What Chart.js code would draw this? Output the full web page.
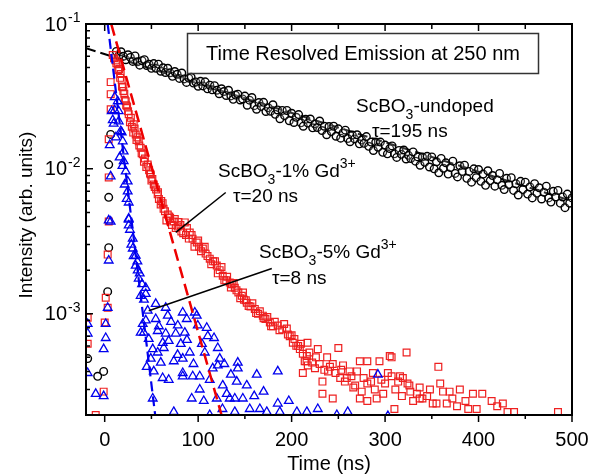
<!DOCTYPE html>
<html>
<head>
<meta charset="utf-8">
<script src="https://cdn.jsdelivr.net/npm/chart.js@4.4.0/dist/chart.umd.min.js"></script>
<style>
  html, body { margin: 0; padding: 0; background: #fff; }
  canvas { display: block; }
</style>
</head>
<body>
<canvas id="grafico" width="600" height="476"></canvas>
<script>
// dados: [tempo (ns), intensidade]
const undoped = [
  [-18.2,0.00049],[-7.5,0.00037],[-1.1,0.0004],[3.2,0.00142],[4.3,0.00286],[4.3,0.00636],[4.3,0.0107],[6.4,0.0173],
  [12.5,0.0647],[15,0.0602],[17.5,0.0643],[20,0.0599],[22.5,0.0567],[25,0.0613],[27.5,0.0588],[30,0.0552],
  [32.5,0.0602],[35,0.0549],[37.5,0.0520],[40,0.0558],[42.5,0.0567],[45,0.0517],[47.5,0.0527],[50,0.0494],
  [52.5,0.0533],[55,0.0495],[57.5,0.0528],[60,0.0472],[62.5,0.0499],[65,0.0463],[67.5,0.0495],[70,0.0460],
  [72.5,0.0435],[75,0.0470],[77.5,0.0450],[80,0.0421],[82.5,0.0459],[85,0.0418],[87.5,0.0395],[90,0.0423],
  [92.5,0.0429],[95,0.0391],[97.5,0.0398],[100,0.0372],[102.5,0.0402],[105,0.0374],[107.5,0.0399],[110,0.0357],
  [112.5,0.0378],[115,0.0351],[117.5,0.0375],[120,0.0349],[122.5,0.0330],[125,0.0357],[127.5,0.0342],[130,0.0321],
  [132.5,0.0349],[135,0.0319],[137.5,0.0302],[140,0.0323],[142.5,0.0328],[145,0.0299],[147.5,0.0304],
  [150,0.0318],[152.5,0.0275],[155,0.0298],[157.5,0.0311],[160,0.0273],[162.5,0.0258],[165,0.0287],[167.5,0.0270],
  [170,0.0288],[172.5,0.0249],[175,0.0264],[177.5,0.0250],[180,0.0277],[182.5,0.0238],[185,0.0255],[187.5,0.0222],
  [190,0.0253],[192.5,0.0233],[195,0.0253],[197.5,0.0215],[200,0.0242],[202.5,0.0209],[205,0.0227],[207.5,0.0237],
  [210,0.0208],[212.5,0.0197],[215,0.0220],[217.5,0.0207],[220,0.0221],[222.5,0.0192],[225,0.0204],[227.5,0.0193],
  [230,0.0214],[232.5,0.0184],[235,0.0197],[237.5,0.0172],[240,0.0196],[242.5,0.0181],[245,0.0197],[247.5,0.0168],
  [250,0.0189],[252.5,0.0163],[255,0.0177],[257.5,0.0185],[260,0.0162],[262.5,0.0154],[265,0.0171],[267.5,0.0161],
  [270,0.0172],[272.5,0.0149],[275,0.0158],[277.5,0.0150],[280,0.0167],[282.5,0.0143],[285,0.0153],[287.5,0.0134],
  [290,0.0153],[292.5,0.0141],[295,0.0153],[297.5,0.0130],[300,0.0146],[302.5,0.0127],[305,0.0138],[307.5,0.0144],
  [310,0.0127],[312.5,0.0120],[315,0.0134],[317.5,0.0126],[320,0.0135],[322.5,0.0117],[325,0.0124],[327.5,0.0118],
  [330,0.0131],[332.5,0.0113],[335,0.0121],[337.5,0.0106],[340,0.0121],[342.5,0.0111],[345,0.0122],[347.5,0.0103],
  [350,0.0121],[352.5,0.0100],[355,0.0112],[357.5,0.0094],[360,0.0118],[362.5,0.0101],[365,0.0110],[367.5,0.0092],
  [370,0.0102],[372.5,0.0113],[375,0.0093],[377.5,0.0088],[380,0.0105],[382.5,0.0096],[385,0.0106],[387.5,0.0086],
  [390,0.0096],[392.5,0.0081],[395,0.0100],[397.5,0.0087],[400,0.0099],[402.5,0.0082],[405,0.0092],[407.5,0.0077],
  [410,0.0097],[412.5,0.0083],[415,0.0090],[417.5,0.0076],[420,0.0084],[422.5,0.0093],[425,0.0077],[427.5,0.0072],
  [430,0.0086],[432.5,0.0078],[435,0.0087],[437.5,0.0071],[440,0.0079],[442.5,0.0066],[445,0.0082],[447.5,0.0072],
  [450,0.0081],[452.5,0.0067],[455,0.0075],[457.5,0.0063],[460,0.0079],[462.5,0.0068],[465,0.0074],[467.5,0.0062],
  [470,0.0069],[472.5,0.0076],[475,0.0063],[477.5,0.0059],[480,0.0070],[482.5,0.0064],[485,0.0071],[487.5,0.0058],
  [490,0.0064],[492.5,0.0054],[495,0.0067],[497.5,0.0058],[500,0.0063]
];

const gd1 = [
  [6.4,0.0397],[6.4,0.0328],[6.4,0.0258],[4.3,0.016],[4.3,0.00873],[4.3,0.00433],[3.2,0.00256],[1.1,0.00129],
  [3.2,0.0011],[0,0.00087],[-18.2,0.00094],[-18.2,0.00062],[-1.1,0.00029],[-9.6,0.0002],
  [8.6,0.061],[11.8,0.056],[13.9,0.0528],[15.5,0.049],[17.1,0.0451],[18.2,0.041],[19.3,0.0366],[21,0.033],
  [22.5,0.0293],[24,0.027],[25.7,0.0238],[28,0.0225],[31,0.0203],[32,0.019],[33.2,0.0173],[35,0.0165],
  [36.4,0.0155],[38.5,0.014],[40.7,0.0126],[43,0.0118],[46,0.0107],[47.5,0.0098],[49.3,0.00916],[51,0.0085],
  [52.5,0.00781],[55,0.0072],[56.7,0.00667],[58,0.0062],[59.9,0.00568],[63,0.0053],[67.5,0.00484],[70,0.0046],
  [73.9,0.00433],[66,0.0044],[76,0.0039],[79,0.0043],[82,0.0037],[85.7,0.00427],[88,0.0039],[91,0.00364],
  [94,0.0033],[98.5,0.0031],[101,0.0029],[105,0.00282],[108,0.0026],[112.4,0.0024],[116,0.0023],[119.9,0.00215],
  [123,0.002],[126.3,0.00183],[130,0.0017],[133.8,0.00164],[136,0.0016],[139.2,0.00151],[143,0.0014],
  [146.7,0.00133],[149,0.00125],[152,0.00119],[156,0.00112],[160.6,0.00108],[164,0.001],[169.2,0.00097],
  [172,0.00092],[176.7,0.00087],[180,0.00082],[185.2,0.00083],[190,0.00078],[194.9,0.00079],[198,0.0007],
  [201.3,0.00063],[205,0.0006],[208.8,0.00057],[212,0.00053],[216.3,0.00051],[217.3,0.00044],
  [10,0.058],[12.5,0.0535],[14.5,0.048],[16.5,0.0425],[18.5,0.037],[20,0.0345],[21.5,0.030],[23,0.0275],
  [25,0.025],[27,0.021],[29,0.0195],[30.5,0.0178],[34,0.0158],[37,0.0145],[39.5,0.0128],[42,0.0112],
  [44.5,0.0103],[48.5,0.0093],[50,0.0083],[53.5,0.0075],[57,0.0069],[60.5,0.006],[62,0.0058],[64.5,0.0051],
  [69,0.0047],[72,0.0041],[75,0.0045],[78,0.004],[81,0.0041],[84,0.0036],[87,0.0035],[90,0.0033],[93,0.0035],
  [96,0.0029],[100,0.0032],[103,0.0027],[107,0.0029],[110,0.0025],[114,0.0022],[118,0.0023],[121,0.0019],
  [125,0.0021],[128,0.0017],[131,0.0018],[135,0.00152],[138,0.00163],[141,0.00145],[145,0.00128],[148,0.0014],
  [151,0.00124],[154,0.00113],[158,0.00118],[162,0.00101],[166,0.00104],[170,0.00093],[174,0.00095],
  [178,0.00082],[182,0.00088],[187,0.00077],[192,0.00085],[196,0.00072],[200,0.00071],[203,0.00067],
  [207,0.0006],[210,0.00062],[214,0.00047],[219,0.00054],[222,0.00046],[226,0.0005],[230,0.00045],
  [235,0.00041],[241,0.00043],[247,0.00039],[253,0.00041],[257,0.00034],[264,0.00037],[268,0.00032],
  [270,0.0004],[277,0.00036],[285,0.00034],[287,0.00039],[296,0.00035],[298,0.00028],[311,0.0003],
  [318,0.00027],[326,0.00032],[330,0.00025],[337,0.00031],[345,0.00027],[362,0.00029],[372,0.00026],
  [386,0.00025],[394,0.00028],[398,0.00022],[420,0.00023],[438,0.00021],
  [212,0.00039],[216,0.00047],[217,0.00063],[225,0.00042],[228,0.00057],[233,0.00034],[233,0.00028],
  [238,0.0005],[239,0.0004],[244,0.00045],[244,0.00026],[250,0.00058],[252,0.00036],[255,0.00044],
  [259,0.00036],[262,0.0004],[266,0.00031],[273,0.00047],[273,0.00026],[275,0.00029],[281,0.00047],
  [281,0.00025],[281,0.00033],[289,0.0003],[291,0.00026],[294,0.00047],[300,0.00033],[303,0.00039],
  [305,0.00051],[307,0.00037],[307,0.0005],[310,0.00022],[314,0.00034],[316,0.00037],[319,0.00036],
  [323,0.00054],[324,0.00033],[327,0.00029],[334,0.00028],[337,0.00026],[340,0.00026],[348,0.0003],
  [351,0.00024],[355,0.00024],[357,0.00043],[359,0.00033],[366,0.00024],[369,0.00029],[377,0.00023],
  [380,0.0003],[389,0.00022],[404,0.00028],[414,0.00025],[426,0.00024],[431,0.00021],[485,0.00021]
];

const gd5 = [
  [10.7,0.0313],[10.7,0.0254],[7.5,0.025],[8.6,0.0217],[5.4,0.0146],[18.2,0.0179],[6.4,0.00888],[6.4,0.00433],
  [13.9,0.0293],[15,0.025],[15,0.0213],[17.1,0.0182],[19.3,0.0155],[20.3,0.0132],[20.3,0.0113],[22.5,0.00962],
  [24.6,0.00819],[24.6,0.00699],[25.7,0.00586],[25.7,0.00447],
  [9.6,0.0205],[12,0.0165],[16,0.012],[19,0.0105],[21.4,0.0078],[23.5,0.0062],[27,0.0038],[28.5,0.003],
  [31,0.0025],[35,0.0023],[37.5,0.0019],[40,0.0016],[42,0.00125],
  [4.3,0.00441],[4.3,0.00233],[3.2,0.0011],[1.1,0.00085],[1.1,0.00068],[-1.1,0.00057],[-1.1,0.00027],
  [-9.6,0.00028],[-18.2,0.00085],[-18.2,0.00073],[-18.2,0.00039],
  [25.7,0.00454],[25.7,0.00407],[30,0.0033],[30,0.00282],[33.2,0.00252],[33.2,0.00215],[35.3,0.00199],
  [36.4,0.00175],[43.9,0.00151],[38.5,0.00133],[43.9,0.00137],
  [46,0.00105],[54.6,0.00117],[65.3,0.0011],[40.7,0.00085],[54.6,0.00092],[67.5,0.00097],[41.8,0.00074],
  [56.7,0.00076],[65.3,0.00073],[78.2,0.00083],[76,0.00073],[47.1,0.00067],[38.5,0.00074],[51.4,0.00057],
  [62.1,0.00063],[68.5,0.00065],[56.7,0.00054],[63.2,0.00058],[81.4,0.00062],[49.3,0.00049],[60,0.00046],
  [73.9,0.00047],[83.5,0.00049],[52.5,0.0004],[68.5,0.00035],[83.5,0.00037],[51.4,0.00026],[73.9,0.00021],
  [83.5,0.00102],[87.8,0.00092],[96.4,0.00102],[98.5,0.00097],[99.6,0.00083],[109.2,0.0008],[110.3,0.0007],
  [85.7,0.00074],[91,0.00054],[107.1,0.00054],[121,0.00058],[123.1,0.00049],[121,0.00044],[115.6,0.00042],
  [142.4,0.00046],[142.4,0.00042],[83.5,0.00039],[94.2,0.00037],[101.7,0.00037],[112.4,0.00035],
  [162.7,0.00038],[185.2,0.0004],[141.3,0.00034],[126.3,0.00032],[130.6,0.00028],[101.7,0.0003],
  [93.1,0.00026],[133.8,0.00026],[139.2,0.00026],[147.8,0.00026],[119.9,0.00026],[155.2,0.00022],
  [139.2,0.00021],[166,0.00022],[173.4,0.00021],[185.2,0.00024],[187.4,0.00021],[205.6,0.00021],
  [216.3,0.00021],[112.4,0.0002],[292.3,0.00038],[248.4,0.0002],[303,0.000197],
  [44,0.0009],[58,0.00082],[71,0.00088],[88,0.00066],[104,0.00062],[117,0.00068],[128,0.00045],[135,0.00038],
  [95,0.00045],[78,0.00052],[62,0.00036],[45,0.00043],[106,0.00025],[126,0.00022],[152,0.00032],
  [160,0.00027],[170,0.00029],[197,0.00025],[228,0.00022],[260,0.00021]
];

// retas de ajuste (extremos)
const ajusteUndoped = [[-20,0.068],[500,0.006]];
const ajusteGd1 = [[7,0.1],[125,0.0002]];
const ajusteGd5 = [[3.2,0.1],[54,0.0002]];

const ticksX = [0,100,200,300,400,500];
const expoentesY = [-1,-2,-3];

// setas das anotacoes em coordenadas de dados [t0,i0,t1,i1]
const setaGd1 = [129.5,0.00687,76,0.00364];
const setaGd5 = [178.8,0.00205,47.1,0.00105];

const FONTE = '"Liberation Sans", Arial, Helvetica, sans-serif';

const pontos = pares => pares.map(([x, y]) => ({x, y}));

function escreveRico(ctx, x, y, partes) { // partes: [texto, 0 normal | 1 sub | 2 sup]
  let cx = x;
  partes.forEach(([txt, tipo]) => {
    ctx.font = (tipo ? '14px ' : '19px ') + FONTE;
    const dy = tipo === 1 ? 7 : tipo === 2 ? -9 : 0;
    ctx.fillText(txt, cx, y + dy);
    cx += ctx.measureText(txt).width;
  });
}

const moldura = {
  id: 'moldura',
  afterDatasetsDraw(chart) {
    const {ctx, chartArea: a, scales: {x, y}} = chart;
    ctx.save();
    ctx.strokeStyle = '#000';
    ctx.fillStyle = '#000';
    ctx.lineWidth = 2;
    ctx.strokeRect(a.left, a.top, a.right - a.left, a.bottom - a.top);

    ctx.lineWidth = 1.5;
    ctx.beginPath();
    for (let t = 0; t <= 500; t += 50) {
      const px = x.getPixelForValue(t);
      const maior = t % 100 === 0;
      ctx.moveTo(px, a.bottom); ctx.lineTo(px, a.bottom + (maior ? 7 : 4));
      ctx.moveTo(px, a.top); ctx.lineTo(px, a.top + (maior ? 7 : 5));
    }
    for (let e = -4; e <= -1; e++) {
      for (let k = 1; k <= 9; k++) {
        const v = k * Math.pow(10, e);
        if (v < y.min * 0.999 || v > y.max * 1.001) continue;
        const py = y.getPixelForValue(v);
        ctx.moveTo(a.left, py); ctx.lineTo(a.left + (k === 1 ? 7 : 4), py);
      }
    }
    ctx.stroke();

    // rotulos dos eixos
    ctx.textBaseline = 'middle';
    ctx.textAlign = 'center';
    ctx.font = '20px ' + FONTE;
    ticksX.forEach(t => ctx.fillText(String(t), x.getPixelForValue(t), 440));

    expoentesY.forEach(e => {
      const py = y.getPixelForValue(Math.pow(10, e));
      ctx.textAlign = 'right';
      ctx.font = '20px ' + FONTE;
      ctx.fillText('10', 67, py + 1);
      ctx.textAlign = 'left';
      ctx.font = '14px ' + FONTE;
      ctx.fillText(String(e), 68, py - 6);
    });

    ctx.textBaseline = 'alphabetic';
    ctx.textAlign = 'center';
    ctx.font = '20px ' + FONTE;
    ctx.fillText('Time (ns)', (a.left + a.right) / 2, 470);

    ctx.save();
    ctx.translate(32, 215);
    ctx.rotate(-Math.PI / 2);
    ctx.font = '19px ' + FONTE;
    ctx.fillText('Intensity (arb. units)', 0, 0);
    ctx.restore();

    // caixa do titulo
    ctx.lineWidth = 1.5;
    ctx.strokeStyle = '#333';
    ctx.strokeRect(187.5, 33.5, 351, 40);
    ctx.font = '20px ' + FONTE;
    ctx.fillText('Time Resolved Emission at 250 nm', 363, 60);

    // anotacoes
    ctx.textAlign = 'left';
    escreveRico(ctx, 356, 112, [['ScBO', 0], ['3', 1], ['-undoped', 0]]);
    escreveRico(ctx, 372, 137, [['\u03c4=195 ns', 0]]);
    escreveRico(ctx, 218, 177, [['ScBO', 0], ['3', 1], ['-1% Gd', 0], ['3+', 2]]);
    escreveRico(ctx, 233, 202, [['\u03c4=20 ns', 0]]);
    escreveRico(ctx, 259, 258, [['ScBO', 0], ['3', 1], ['-5% Gd', 0], ['3+', 2]]);
    escreveRico(ctx, 272, 284, [['\u03c4=8 ns', 0]]);

    ctx.strokeStyle = '#000';
    ctx.lineWidth = 1.5;
    [setaGd1, setaGd5].forEach(([t0, i0, t1, i1]) => {
      ctx.beginPath();
      ctx.moveTo(x.getPixelForValue(t0), y.getPixelForValue(i0));
      ctx.lineTo(x.getPixelForValue(t1), y.getPixelForValue(i1));
      ctx.stroke();
    });
    ctx.restore();
  }
};

const grafico = new Chart(document.getElementById('grafico'), {
  type: 'scatter',
  data: {
    datasets: [
      { data: pontos(ajusteGd5), showLine: true, pointRadius: 0, borderColor: '#0000ee',
        borderWidth: 2.2, borderDash: [10, 5], order: 1 },
      { data: pontos(ajusteGd1), showLine: true, pointRadius: 0, borderColor: '#ee0000',
        borderWidth: 2.5, borderDash: [12, 6], order: 2 },
      { data: pontos(gd5), pointStyle: 'triangle', pointRadius: 5, borderColor: '#0000ee',
        backgroundColor: 'rgba(0,0,0,0)', borderWidth: 1.3, clip: 0, order: 3 },
      { data: pontos(gd1), pointStyle: 'rect', pointRadius: 4.8, borderColor: '#ee2020',
        backgroundColor: 'rgba(0,0,0,0)', borderWidth: 1.2, clip: 0, order: 4 },
      { data: pontos(undoped), pointStyle: 'circle', pointRadius: 3.8, borderColor: '#000',
        backgroundColor: 'rgba(255,255,255,0.2)', borderWidth: 1.4, clip: 0, order: 5 },
      { data: pontos(ajusteUndoped), showLine: true, pointRadius: 0, borderColor: '#000',
        borderWidth: 2, borderDash: [10, 5], order: 6 }
    ]
  },
  options: {
    responsive: false,
    animation: false,
    devicePixelRatio: 1,
    events: [],
    layout: { padding: { top: 24, right: 28, left: 0, bottom: 0 } },
    plugins: { legend: { display: false }, tooltip: { enabled: false } },
    scales: {
      x: { type: 'linear', min: -20, max: 500,
           grid: { display: false }, border: { display: false }, ticks: { display: false },
           afterFit(s) { s.height = 61; } },
      y: { type: 'logarithmic', min: 0.0002, max: 0.1,
           grid: { display: false }, border: { display: false }, ticks: { display: false },
           afterFit(s) { s.width = 86; } }
    }
  },
  plugins: [moldura]
});
</script>
</body>
</html>
